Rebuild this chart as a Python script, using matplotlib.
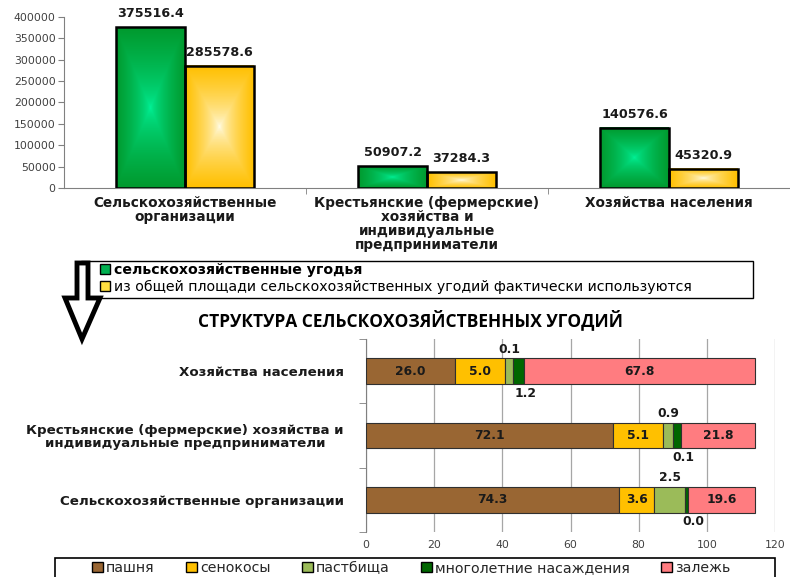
import numpy as np
import matplotlib.pyplot as plt
from matplotlib.colors import to_rgb
from matplotlib.patches import Rectangle, Polygon

# --- данные верхней диаграммы ---
groups = ['Сельскохозяйственные\nорганизации',
          'Крестьянские (фермерские)\nхозяйства и\nиндивидуальные\nпредприниматели',
          'Хозяйства населения']
total_land = [375516.4, 50907.2, 140576.6]
used_land = [285578.6, 37284.3, 45320.9]
yticks_top = [0, 50000, 100000, 150000, 200000, 250000, 300000, 350000, 400000]

# --- данные нижней диаграммы (структура, %) ---
rows = ['Сельскохозяйственные организации',
        'Крестьянские (фермерские) хозяйства и\nиндивидуальные предприниматели',
        'Хозяйства населения']
kinds = ['пашня', 'сенокосы', 'пастбища', 'многолетние насаждения', 'залежь']
# ширины сегментов, как они нарисованы на картинке
seg_widths = [
    [74.3, 10.2, 9.1, 1.0, 19.6],
    [72.5, 14.7, 2.9, 2.2, 21.9],
    [26.1, 14.7, 2.4, 3.1, 67.9],
]
# подписи данных
seg_labels = [
    ['74.3', '3.6', '2.5', '0.0', '19.6'],
    ['72.1', '5.1', '0.9', '0.1', '21.8'],
    ['26.0', '5.0', '0.1', '1.2', '67.8'],
]
kind_colors = ['#996633', '#FFC000', '#9BBB59', '#006600', '#FF7C80']

plt.rcParams['font.family'] = ['DejaVu Sans']

W, H = 790, 577
fig = plt.figure(figsize=(7.9, 5.77), dpi=100)


def fx(px):
    return px / W


def fy(py):
    return 1 - py / H


def gradient(c_center, c_edge, n=80):
    u = np.linspace(-1, 1, n)
    uu, vv = np.meshgrid(u, u)
    t = np.maximum(np.abs(uu), np.abs(vv)) ** 0.6
    c0 = np.array(to_rgb(c_center))
    c1 = np.array(to_rgb(c_edge))
    return c0[None, None, :] * (1 - t[..., None]) + c1[None, None, :] * t[..., None]


grad_green = gradient('#00F59C', '#009A2E')
grad_yellow = gradient('#FFFFF2', '#FFC000')

# ================= верхняя диаграмма =================
ax1 = fig.add_axes([fx(64), fy(188), fx(726), (188 - 16.7) / H])
bw = 0.284
x = np.arange(len(groups))
for i in range(len(groups)):
    for val, img, off in ((total_land[i], grad_green, -bw / 2), (used_land[i], grad_yellow, bw / 2)):
        x0 = x[i] + off - bw / 2
        ax1.imshow(img, extent=(x0, x0 + bw, 0, val), aspect='auto', zorder=2, origin='lower')
        ax1.add_patch(Rectangle((x0, 0), bw, val, facecolor='none', edgecolor='black',
                                linewidth=1.8, zorder=3))
        ax1.annotate(f'{val:.1f}', (x[i] + off, val), xytext=(0, 5), textcoords='offset points',
                     ha='center', va='bottom', fontsize=9.2, fontweight='bold', color='#1a1a1a')

ax1.set_xlim(-0.5, 2.5)
ax1.set_ylim(0, 400000)
ax1.set_yticks(yticks_top)
ax1.set_yticklabels([str(v) for v in yticks_top], fontsize=7.8, color='#404040')
ax1.set_xticks(x)
ax1.set_xticklabels(groups, fontsize=9.8, fontweight='bold', color='#1a1a1a', linespacing=1.0)
ax1.set_xticks([0.5, 1.5], minor=True)
ax1.tick_params(axis='x', which='major', length=0, pad=6)
ax1.tick_params(axis='x', which='minor', length=4, color='#808080')
ax1.tick_params(axis='y', length=4, color='#808080', pad=2)
for s in ('top', 'right'):
    ax1.spines[s].set_visible(False)
for s in ('left', 'bottom'):
    ax1.spines[s].set_color('#808080')

# легенда верхней диаграммы (рамка отдельно)
fig.add_artist(Rectangle((fx(81), fy(298)), fx(753 - 81), (298 - 261) / H,
                         transform=fig.transFigure, facecolor='white',
                         edgecolor='black', linewidth=1))
h1 = Rectangle((0, 0), 1, 1, facecolor='#00B050', edgecolor='black', linewidth=1)
h2 = Rectangle((0, 0), 1, 1, facecolor='#FFE040', edgecolor='black', linewidth=1)
leg1 = fig.legend([h1, h2], ['сельскохозяйственные угодья',
                             'из общей площади сельскохозяйственных угодий фактически используются'],
                  loc='upper left', bbox_to_anchor=(fx(100), fy(263)),
                  prop={'family': 'DejaVu Sans', 'size': 10.2}, handlelength=0.7, handleheight=0.7,
                  handletextpad=0.3, borderpad=0.0, borderaxespad=0, labelspacing=0.22,
                  frameon=False)
leg1.get_texts()[0].set_fontweight('bold')

# стрелка вниз
arrow = Polygon([(fx(px), fy(py)) for px, py in
                 [(77, 263), (88, 263), (88, 298), (100, 298), (82, 339), (65, 298), (77, 298)]],
                closed=True, facecolor='white', edgecolor='black', linewidth=3.5,
                joinstyle='miter', transform=fig.transFigure)
fig.add_artist(arrow)

fig.text(fx(411), fy(320), 'СТРУКТУРА СЕЛЬСКОХОЗЯЙСТВЕННЫХ УГОДИЙ',
         ha='center', va='center', fontsize=12.5, fontweight='bold', family='Open Sans')

# ================= нижняя диаграмма =================
ax2 = fig.add_axes([fx(366), fy(532), fx(409), (532 - 339) / H])
y = np.arange(len(rows))
left = np.zeros(len(rows))
widths = np.array(seg_widths)
for k in range(len(kinds)):
    ax2.barh(y, widths[:, k], left=left, height=0.4, color=kind_colors[k],
             edgecolor='#303030', linewidth=0.8, label=kinds[k], zorder=3)
    for r in range(len(rows)):
        cx = left[r] + widths[r, k] / 2
        if k in (0, 1, 4):
            ax2.text(cx, y[r], seg_labels[r][k], ha='center', va='center',
                     fontsize=8.8, fontweight='bold', color='#1a1a1a', zorder=4)
        elif k == 2:
            ax2.annotate(seg_labels[r][k], (cx, y[r] + 0.2), xytext=(0, 2),
                         textcoords='offset points', ha='center', va='bottom',
                         fontsize=8.8, fontweight='bold', color='#1a1a1a')
        else:
            ax2.annotate(seg_labels[r][k], (cx, y[r] - 0.2), xytext=(5, -2),
                         textcoords='offset points', ha='center', va='top',
                         fontsize=8.8, fontweight='bold', color='#1a1a1a')
    left = left + widths[:, k]

ax2.set_xlim(0, 120)
ax2.set_ylim(-0.5, 2.5)
ax2.set_xticks(np.arange(0, 121, 20))
ax2.set_xticklabels([str(v) for v in range(0, 121, 20)], fontsize=7.8, color='#404040')
ax2.tick_params(axis='x', length=0, pad=6)
ax2.set_yticks(y)
ax2.set_yticklabels(rows, fontsize=9.6, fontweight='bold', color='#1a1a1a',
                    linespacing=1.05, multialignment='center')
ax2.set_yticks([-0.5, 0.5, 1.5, 2.5], minor=True)
ax2.tick_params(axis='y', which='major', length=0, pad=16)
ax2.tick_params(axis='y', which='minor', length=5, color='#808080')
ax2.grid(axis='x', color='#a6a6a6', linewidth=0.9, zorder=0)
ax2.set_axisbelow(True)
for s in ('top', 'right', 'bottom'):
    ax2.spines[s].set_visible(False)
ax2.spines['left'].set_color('#808080')

# легенда нижней диаграммы (рамка отдельно)
fig.add_artist(Rectangle((fx(55), fy(585)), fx(775 - 55), (585 - 558) / H,
                         transform=fig.transFigure, facecolor='white',
                         edgecolor='black', linewidth=1.2))
handles = [Rectangle((0, 0), 1, 1, facecolor=c, edgecolor='black', linewidth=1) for c in kind_colors]
leg2 = fig.legend(handles, kinds, loc='upper center', ncol=5,
                  bbox_to_anchor=(fx(411), fy(561)), fontsize=10.2,
                  handlelength=0.8, handleheight=0.8, handletextpad=0.2,
                  columnspacing=2.2, borderpad=0, borderaxespad=0, frameon=False)
for t in leg2.get_texts():
    t.set_color('#262626')

fig.savefig('out.png', dpi=100)
